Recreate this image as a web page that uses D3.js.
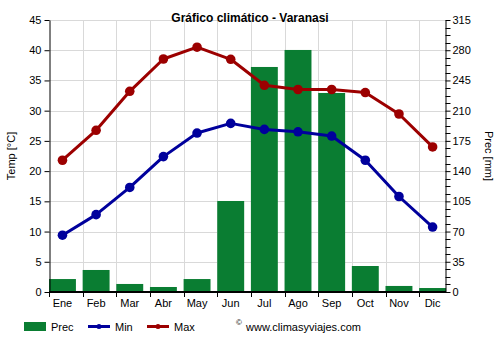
<!DOCTYPE html>
<html><head><meta charset="utf-8">
<script src="https://cdn.jsdelivr.net/npm/d3@7"></script>
<style>body{margin:0;background:#fff}svg{display:block;font-family:"Liberation Sans",Arial,sans-serif}</style>
</head><body>
<svg id="c" width="500" height="350"></svg>
<script>
const months = ["Ene","Feb","Mar","Abr","May","Jun","Jul","Ago","Sep","Oct","Nov","Dic"];
const prec = [15, 25.5, 9.3, 5.8, 15, 105.4, 260.6, 280.3, 230.5, 30.1, 7, 4.6];
const tMin = [9.4, 12.8, 17.3, 22.4, 26.3, 27.9, 26.9, 26.5, 25.8, 21.8, 15.8, 10.75];
const tMax = [21.8, 26.75, 33.2, 38.55, 40.5, 38.5, 34.2, 33.5, 33.5, 33.0, 29.45, 24.0];
const tempTicks = [0,5,10,15,20,25,30,35,40,45];
const precTicks = [0,35,70,105,140,175,210,245,280,315];

const C_PREC = "#0a7d32", C_MIN = "#00009c", C_MAX = "#9c0000";
const L = 49, R = 446, T = 20, B = 292;
const svg = d3.select("#c");
const x = d3.scaleBand().domain(months).range([L, L + 12*33.65]).padding(0);
const bw = x.bandwidth();
const cx = m => x(m) + bw*0.4;
const yT = d3.scaleLinear().domain([0,45]).range([B,T]);
const yP = d3.scaleLinear().domain([0,315]).range([B,T]);

// grid
const g = svg.append("g").attr("stroke","#d9d9d9").attr("stroke-width",1);
tempTicks.filter(v=>v>0).forEach(v=>g.append("line").attr("x1",L).attr("x2",R).attr("y1",Math.round(yT(v))+0.5).attr("y2",Math.round(yT(v))+0.5));
months.slice(1).forEach(m=>g.append("line").attr("x1",Math.round(x(m))+0.5).attr("x2",Math.round(x(m))+0.5).attr("y1",T).attr("y2",B));

// bars
svg.append("g").selectAll("rect").data(months).join("rect")
  .attr("x", m => x(m)).attr("width", bw*0.8)
  .attr("y", (m,i) => yP(prec[i])).attr("height", (m,i) => B - yP(prec[i]))
  .attr("fill", C_PREC);

// lines
function series(vals, col){
  const line = d3.line().x((d,i)=>cx(months[i])).y(d=>yT(d));
  svg.append("path").datum(vals).attr("d",line).attr("fill","none").attr("stroke",col).attr("stroke-width",3).attr("stroke-linejoin","round");
  svg.append("g").selectAll("circle").data(vals).join("circle")
    .attr("cx",(d,i)=>cx(months[i])).attr("cy",d=>yT(d)).attr("r",4.8).attr("fill",col);
}
series(tMin, C_MIN);
series(tMax, C_MAX);

// left axis
const la = svg.append("g").attr("transform",`translate(${L+0.5},0)`)
  .call(d3.axisLeft(yT).tickValues(tempTicks).tickSize(5).tickSizeOuter(0).tickPadding(3));
la.selectAll("text").attr("font-size",11).attr("font-family","Liberation Sans, Arial").attr("fill","#000");
la.select(".domain").attr("stroke","#000");

// right axis
const minor = d3.range(0, 315.01, 8.75).filter(v => !precTicks.includes(v));
const ra = svg.append("g").attr("transform",`translate(${R-0.5},0)`)
  .call(d3.axisRight(yP).tickValues(precTicks).tickSize(5).tickSizeOuter(0).tickPadding(2));
ra.selectAll("text").attr("font-size",11).attr("font-family","Liberation Sans, Arial").attr("fill","#000");
ra.select(".domain").attr("stroke","#000");
svg.append("g").selectAll("line").data(minor).join("line")
  .attr("x1",R-0.5).attr("x2",R+4.5).attr("y1",d=>Math.round(yP(d))+0.5).attr("y2",d=>Math.round(yP(d))+0.5).attr("stroke","#000");

// x axis
svg.append("line").attr("x1",L).attr("x2",R).attr("y1",B).attr("y2",B).attr("stroke","#000").attr("stroke-width",2);
svg.append("g").selectAll("line").data(months).join("line")
  .attr("x1",m=>Math.round(x(m))+0.5).attr("x2",m=>Math.round(x(m))+0.5).attr("y1",B).attr("y2",B+5).attr("stroke","#000");
svg.append("g").selectAll("text").data(months).join("text")
  .attr("x",m=>cx(m)).attr("y",307).attr("text-anchor","middle").attr("font-size",11).text(m=>m);

// titles
svg.append("text").attr("x",250).attr("y",22).attr("text-anchor","middle").attr("font-size",12).attr("font-weight","bold").text("Gráfico climático - Varanasi");
svg.append("text").attr("transform","translate(15,156) rotate(-90)").attr("text-anchor","middle").attr("font-size",11).text("Temp [°C]");
svg.append("text").attr("transform","translate(485,156) rotate(90)").attr("text-anchor","middle").attr("font-size",11).text("Prec [mm]");

// legend
const lg = svg.append("g");
lg.append("rect").attr("x",24).attr("y",322).attr("width",22).attr("height",9).attr("fill",C_PREC);
lg.append("text").attr("x",51).attr("y",331).attr("font-size",11).text("Prec");
[[88,C_MIN,"Min"],[147,C_MAX,"Max"]].forEach(([lx,col,t])=>{
  lg.append("line").attr("x1",lx).attr("x2",lx+22).attr("y1",326.5).attr("y2",326.5).attr("stroke",col).attr("stroke-width",3);
  lg.append("circle").attr("cx",lx+11).attr("cy",326.5).attr("r",2.5).attr("fill",col);
  lg.append("text").attr("x",lx+27).attr("y",331).attr("font-size",11).text(t);
});
lg.append("text").attr("x",236).attr("y",325).attr("font-size",8).text("©");
lg.append("text").attr("x",246).attr("y",331).attr("font-size",11).text("www.climasyviajes.com");
</script>
</body></html>
